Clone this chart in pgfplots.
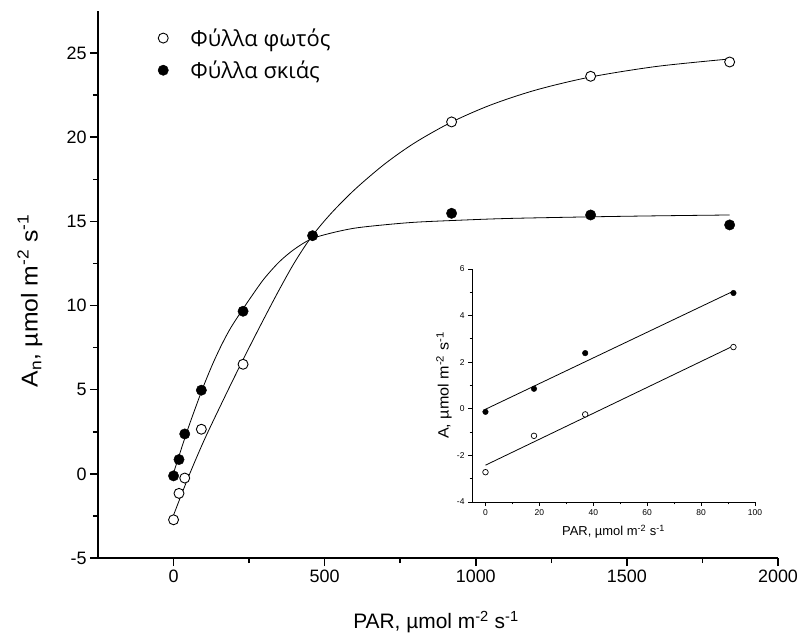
\documentclass[border=0pt]{standalone}
\usepackage{fontspec}
\setmainfont{Liberation Sans}
\newfontfamily\grfont{Open Sans}
\usepackage{graphicx}
\usepackage{pgfplots}
\pgfplotsset{compat=1.18}
\begin{document}
\begin{tikzpicture}
\path[use as bounding box] (-98bp,-83bp) rectangle (702bp,558bp);
\begin{axis}[
  at={(0bp,0bp)}, anchor=south west,
  scale only axis, width=680bp, height=547bp,
  xmin=-250, xmax=2000, ymin=-5, ymax=27.5,
  axis lines=left, axis line style={-, line width=1.5bp},
  xtick={0,500,...,2000}, ytick={-5,0,...,25},
  minor x tick num=1, minor y tick num=1,
  tick align=outside, major tick length=8bp, minor tick length=5bp,
  every tick/.style={black, line width=1.5bp},
  tick label style={font=\fontsize{18}{21}\selectfont},
  /pgf/number format/assume math mode=true,
  /pgf/number format/1000 sep={},
  xlabel={PAR, µmol m\textsuperscript{-2} s\textsuperscript{-1}},
  ylabel={\scalebox{1.08}[1]{A\textsubscript{n}, µmol m\textsuperscript{-2} s\textsuperscript{-1}}},
  every axis x label/.style={at={([yshift=-64bp]axis description cs:0.497,0)}, anchor=center, font=\fontsize{21}{25}\selectfont},
  every axis y label/.style={at={([xshift=-68bp]axis description cs:0,0.47)}, rotate=90, anchor=center, font=\fontsize{23}{27}\selectfont},
  clip=false,
  legend cell align=left,
  legend style={at={(axis description cs:0.088,0.972)}, anchor=north west, draw=none, fill=none,
    font=\grfont\fontsize{22}{26}\selectfont, row sep=9bp, inner sep=0pt,
    /tikz/every odd column/.append style={column sep=20bp}},
]
% fitted curves
\addplot[black, line width=0.8bp, smooth, forget plot] coordinates {
(0,-2.45) (50,-0.15) (100,1.95) (150,3.85) (200,5.7) (250,7.5) (300,9.25) (350,10.95)
(400,12.55) (455,14.05) (520,15.45) (600,16.9) (700,18.43) (800,19.69) (920,20.9)
(1050,21.92) (1200,22.81) (1380,23.58) (1600,24.21) (1840,24.65)};
\addplot[black, line width=0.8bp, smooth, forget plot] coordinates {
(0,0.05) (25,1.45) (50,2.8) (75,4.05) (100,5.25) (130,6.55) (160,7.7) (190,8.7)
(228,9.75) (260,10.6) (300,11.6) (350,12.6) (400,13.35) (455,13.95) (520,14.3)
(600,14.6) (700,14.8) (800,14.95) (920,15.05) (1100,15.17) (1380,15.27) (1600,15.33) (1840,15.38)};
% data
\addplot[only marks, mark=*, mark size=5bp, mark options={fill=white, draw=black, line width=0.9bp}] coordinates {
(0,-2.73) (18,-1.16) (37,-0.25) (92,2.65) (230,6.51) (920,20.91) (1380,23.62) (1840,24.47)};
\addlegendentry{Φύλλα φωτός}
\addplot[only marks, mark=*, mark size=5.2bp, mark options={fill=black, draw=black}] coordinates {
(0,-0.12) (18,0.85) (37,2.37) (92,4.97) (230,9.66) (460,14.15) (920,15.48) (1380,15.38) (1840,14.79)};
\addlegendentry{Φύλλα σκιάς}
\end{axis}
\begin{axis}[
  at={(374bp,56bp)}, anchor=south west,
  scale only axis, width=283bp, height=233bp,
  xmin=-5, xmax=100, ymin=-4, ymax=6,
  axis lines=left, axis line style={-, line width=0.8bp},
  xtick={0,20,...,100}, ytick={-4,-2,...,6},
  minor x tick num=1, minor y tick num=1,
  tick align=outside, major tick length=4bp, minor tick length=2.5bp,
  every tick/.style={black, line width=0.8bp},
  tick label style={font=\fontsize{8.5}{10}\selectfont},
  /pgf/number format/assume math mode=true,
  xlabel={PAR, µmol m\textsuperscript{-2} s\textsuperscript{-1}},
  ylabel={\scalebox{1.08}[1]{A, µmol m\textsuperscript{-2} s\textsuperscript{-1}}},
  every axis x label/.style={at={([yshift=-30bp]axis description cs:0.5,0)}, anchor=center, font=\fontsize{13}{15}\selectfont},
  every axis y label/.style={at={([xshift=-28bp]axis description cs:0,0.5)}, rotate=90, anchor=center, font=\fontsize{15}{18}\selectfont},
  clip=false,
]
\addplot[black, line width=0.8bp] coordinates {(0,-2.42) (92,2.7)};
\addplot[black, line width=0.8bp] coordinates {(0,-0.02) (92,5.05)};
\addplot[only marks, mark=*, mark size=2.8bp, mark options={fill=white, draw=black, line width=0.7bp}] coordinates {
(0,-2.72) (18,-1.16) (37,-0.24) (92,2.65)};
\addplot[only marks, mark=*, mark size=2.8bp, mark options={fill=black, draw=black}] coordinates {
(0,-0.13) (18,0.86) (37,2.39) (92,4.97)};
\end{axis}
\end{tikzpicture}
\end{document}
